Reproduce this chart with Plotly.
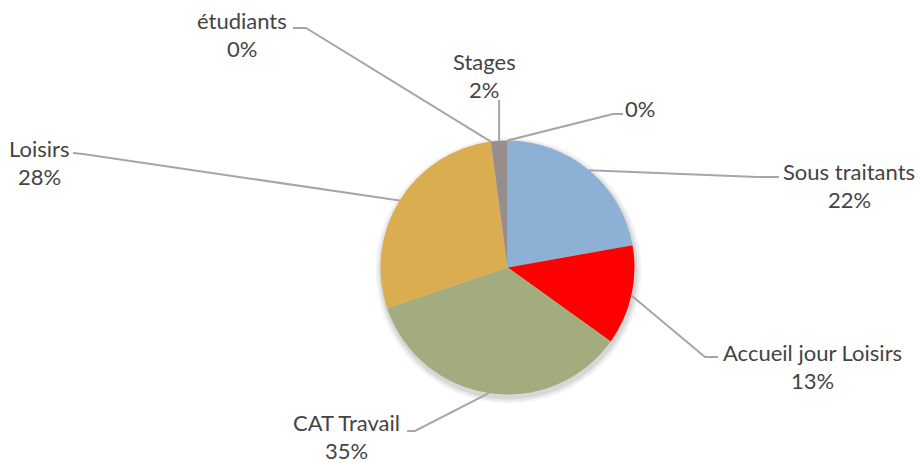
import math
import plotly.graph_objects as go

# ---- data ----
labels = ["", "Sous traitants", "Accueil jour Loisirs", "CAT Travail", "Loisirs", "étudiants", "Stages"]
values = [0, 22.2, 12.7, 34.9, 28.1, 0, 2.1]
colors = ["#7F7F7F", "#8DB0D5", "#FF0000", "#A3AC7F", "#D9AD50", "#B0A0A0", "#978D8D"]

# ---- layout (pixel positions) ----
W, H = 920, 463
CX, CY, R = 507.5, 267.5, 127
FONT = "Lato"
FS = 22
TXT = "#444444"
LINE = "#A6A6A6"
LSP = 28  # spacing between name and percent line
# label name-line centre (x, y), leader elbow, leader end
label_pos = [
    (640, 108), (849, 171), (812, 352), (346, 422), (39, 148), (242, 20), (484, 61)
]
elbows = [(613, 114), (757, 177), (705, 357), (415, 431), (83, 154), (306, 28), (None, 100)]
ends = [(623, 114), (779, 177), (718, 357), (407, 431), (73, 153), (293, 28), (None, 100)]

total = sum(values)
pcts = [round(100 * v / total) for v in values]

fig = go.Figure()
fig.add_trace(go.Pie(
    labels=labels, values=values, sort=False, direction="clockwise", rotation=0,
    marker=dict(colors=colors, line=dict(width=0)),
    textinfo="none", hoverinfo="label+percent", showlegend=False,
    domain=dict(x=[(CX - R) / W, (CX + R) / W], y=[1 - (CY + R) / H, 1 - (CY - R) / H]),
))

shapes = []
# soft shadow
for k, a in [(6, 0.04), (4, 0.05), (2, 0.07)]:
    shapes.append(dict(type="circle", xref="x", yref="y", layer="below",
                       x0=CX - R - k + 1, x1=CX + R + k + 1, y0=CY - R - k + 3, y1=CY + R + k + 3,
                       fillcolor=f"rgba(0,0,0,{a})", line=dict(width=0)))

annotations = []
cum = 0.0
for i, v in enumerate(values):
    mid = (cum + v / 2) / total * 2 * math.pi
    cum += v
    ax = CX + R * math.sin(mid)
    ay = CY - R * math.cos(mid)
    ex, ey = elbows[i]
    nx, ny = ends[i]
    if ex is None:
        ex = ax
    if nx is None:
        nx = ax
    shapes.append(dict(type="path", xref="x", yref="y",
                       path=f"M {ax:.1f},{ay:.1f} L {ex:.1f},{ey:.1f} L {nx:.1f},{ny:.1f}",
                       line=dict(color=LINE, width=2)))
    lx, ly = label_pos[i]
    if labels[i]:
        annotations.append(dict(x=lx, y=ly, xref="x", yref="y", text=labels[i], showarrow=False,
                                font=dict(family=FONT, size=FS, color=TXT), xanchor="center", yanchor="middle"))
        annotations.append(dict(x=lx, y=ly + LSP, xref="x", yref="y", text=f"{pcts[i]}%", showarrow=False,
                                font=dict(family=FONT, size=FS, color=TXT), xanchor="center", yanchor="middle"))
    else:
        annotations.append(dict(x=lx, y=ly, xref="x", yref="y", text=f"{pcts[i]}%", showarrow=False,
                                font=dict(family=FONT, size=FS, color=TXT), xanchor="center", yanchor="middle"))

fig.update_layout(
    width=W, height=H, margin=dict(l=0, r=0, t=0, b=0),
    paper_bgcolor="white", plot_bgcolor="white",
    xaxis=dict(range=[0, W], visible=False, domain=[0, 1], fixedrange=True),
    yaxis=dict(range=[H, 0], visible=False, domain=[0, 1], fixedrange=True),
    shapes=shapes, annotations=annotations,
)
fig.write_html("out.html", config={"displayModeBar": False},
               post_script="document.body.style.margin='0';document.body.style.overflow='hidden';")
